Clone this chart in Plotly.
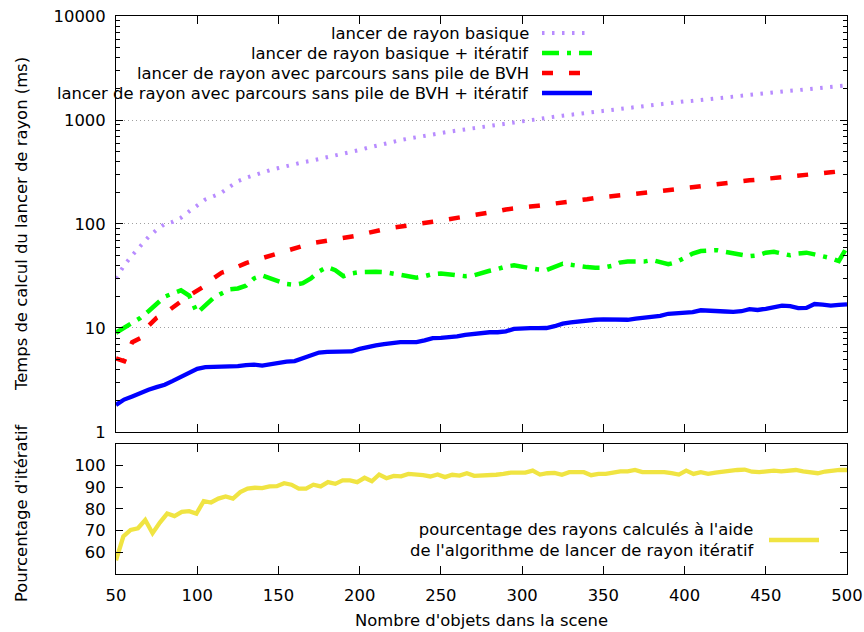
import plotly.graph_objects as go

# Nombre d'objets (pas de 5) pour les temps de calcul
n_objets = list(range(50, 505, 5))

# temps en ms
basique = [30, 40, 50, 62, 75, 88, 100, 105, 115, 132,
           150, 172, 185, 200, 228, 258, 278, 296, 312, 330,
           345, 362, 378, 392, 405, 420, 438, 455, 472, 492,
           515, 540, 565, 592, 618, 640, 662, 685, 708, 730,
           752, 772, 792, 810, 828, 850, 872, 895, 918, 945,
           970, 1000, 1025, 1050, 1075, 1100, 1125, 1150, 1175, 1195,
           1210, 1235, 1265, 1290, 1320, 1350, 1385, 1420, 1450, 1480,
           1510, 1530, 1560, 1590, 1620, 1650, 1690, 1730, 1765, 1790,
           1820, 1850, 1880, 1910, 1940, 1970, 2000, 2040, 2080, 2110,
           2150]

basique_iter = [9.0, 10.0, 11.3, 12.5, 14.5, 17.0, 20.0, 21.5, 23.0, 20.5,
                14.0, 16.5, 19.5, 21.5, 23.5, 24.0, 25.5, 30.0, 32.0, 30.0,
                28.0, 26.5, 26.0, 27.0, 30.0, 35.0, 38.5, 36.0, 31.5, 33.5,
                34.5, 34.8, 34.8, 34.5, 33.5, 32.8, 31.5, 30.5, 31.5, 33.0,
                33.5, 33.0, 32.5, 31.5, 32.0, 34.0, 35.5, 37.0, 39.0, 40.0,
                38.5, 37.5, 36.5, 36.0, 38.5, 41.5, 40.5, 39.0, 38.5, 38.0,
                38.0, 39.5, 42.5, 43.5, 43.0, 43.5, 45.0, 43.5, 41.0, 43.0,
                47.0, 52.0, 55.0, 55.5, 56.0, 54.0, 52.0, 50.5, 49.0, 50.0,
                53.0, 54.0, 52.0, 50.0, 52.0, 53.0, 51.0, 49.0, 47.0, 44.0,
                60.0]

bvh = [5.1, 4.8, 7.3, 8.0, 10.5, 12.5, 13.8, 16.0, 18.0, 20.5,
       23, 25.5, 30, 34, 36, 39, 42, 44.5, 47, 50,
       53, 56, 59, 62, 65, 67, 69, 71, 73, 75.5,
       78, 82, 86, 89, 92, 94, 97, 99, 102, 105,
       108, 111, 114, 117, 121, 125, 129, 133, 138, 142,
       145, 147, 150, 153, 156, 160, 165, 169, 173, 178,
       182, 185, 188, 192, 195, 199, 203, 207, 212, 217,
       222, 227, 232, 237, 242, 248, 253, 258, 263, 267,
       271, 276, 281, 287, 292, 297, 302, 308, 314, 320,
       326]

bvh_iter = [1.82, 2.05, 2.2, 2.4, 2.55, 2.7, 2.85, 3.1, 3.4, 3.7,
            4.05, 4.2, 4.22, 4.22, 4.25, 4.3, 4.4, 4.45, 4.35, 4.5,
            4.7, 4.75, 4.8, 5.1, 5.5, 5.8, 5.9, 5.9, 5.85, 5.95,
            6.3, 6.6, 6.8, 7.0, 7.2, 7.3, 7.3, 7.3, 7.6, 8.0,
            8.05, 8.1, 8.3, 8.6, 8.8, 9.0, 9.1, 9.1, 9.3, 9.8,
            9.95, 9.95, 9.95, 10.0, 10.4, 11.0, 11.3, 11.6, 11.9, 12.0,
            12.1, 12.0, 11.9, 12.0, 12.3, 12.5, 12.7, 13.1, 13.7, 13.8,
            13.8, 14.2, 14.8, 14.6, 14.3, 14.4, 14.3, 14.5, 15.2, 14.9,
            15.3, 15.9, 16.4, 16.2, 15.5, 15.6, 17.0, 16.8, 16.4, 16.7,
            16.9]

# pourcentage (pas de 4.5)
pct_iteratif = [56.3, 67.3, 70.3, 71.1, 74.9, 68.8, 73.7, 77.9, 76.7, 78.7,
                79.0, 77.9, 83.6, 83.0, 84.8, 85.8, 84.8, 87.8, 89.4, 89.8,
                89.6, 90.4, 90.5, 91.9, 91.2, 89.4, 89.4, 91.2, 90.4, 92.4,
                91.6, 93.2, 93.2, 92.4, 94.4, 92.8, 95.9, 94.2, 95.3, 95.1,
                96.2, 96.0, 95.6, 95.0, 95.9, 94.7, 95.8, 95.4, 96.5, 95.3,
                95.4, 95.8, 95.8, 96.2, 96.8, 96.8, 96.8, 97.7, 95.9, 96.5,
                96.7, 95.8, 97.0, 97.0, 97.0, 95.6, 96.2, 96.2, 97.0, 97.4,
                97.4, 98.0, 97.0, 97.0, 97.0, 97.0, 96.5, 95.9, 97.7, 96.2,
                97.0, 96.2, 96.8, 97.3, 97.6, 98.0, 98.2, 97.2, 97.0, 97.2,
                97.7, 97.4, 97.6, 98.0, 97.4, 97.0, 96.5, 97.3, 97.8, 98.0,
                98.0]
n_objets_pct = [50 + 4.5 * i for i in range(len(pct_iteratif))]

labels = ["lancer de rayon basique",
          "lancer de rayon basique + itératif",
          "lancer de rayon avec parcours sans pile de BVH",
          "lancer de rayon avec parcours sans pile de BVH + itératif"]
label_pct = "pourcentage des rayons calculés à l'aide<br>de l'algorithme de lancer de rayon itératif"

styles = [dict(color="#b88cff", width=4, dash="2.5px,7.5px"),
          dict(color="#00ff00", width=4.5, dash="17px,8px,4px,8px"),
          dict(color="#ff0000", width=4.5, dash="11px,16px"),
          dict(color="#0000ff", width=4.3, dash="solid")]
series = [basique, basique_iter, bvh, bvh_iter]

FONT = "DejaVu Sans"
FS = 16.4
fig = go.Figure()
for lab, ys, st in zip(labels, series, styles):
    fig.add_trace(go.Scatter(x=n_objets, y=ys, mode="lines", name=lab,
                             line=st, xaxis="x", yaxis="y", showlegend=False))
fig.add_trace(go.Scatter(x=n_objets_pct, y=pct_iteratif, mode="lines",
                         line=dict(color="#f0e442", width=4.3),
                         xaxis="x2", yaxis="y2", showlegend=False))

axis_common = dict(showline=True, linecolor="black", linewidth=1, mirror="allticks",
                   ticks="inside", tickcolor="black", zeroline=False, automargin=False,
                   tickfont=dict(size=FS, color="black"))
y_top0 = 0.2545
fig.update_layout(
    width=864, height=632,
    margin=dict(l=116, r=17, t=16, b=58, autoexpand=False),
    paper_bgcolor="white", plot_bgcolor="white",
    font=dict(family=FONT, size=FS, color="black"),
    xaxis=dict(axis_common, range=[50, 500], tickvals=list(range(50, 501, 50)),
               showticklabels=False, ticklen=8, showgrid=False,
               anchor="y", domain=[0, 1]),
    yaxis=dict(axis_common, type="log", range=[0, 4],
               tickvals=[1, 10, 100, 1000, 10000],
               ticktext=["1", "10", "100", "1000", "10000"],
               ticklen=7, ticklabelstandoff=6,
               minor=dict(ticks="inside", ticklen=4, tickcolor="black", dtick="D1", showgrid=False),
               showgrid=True, gridcolor="#a0a0a0", griddash="1px,3px", gridwidth=1,
               anchor="x", domain=[y_top0, 1]),
    xaxis2=dict(axis_common, range=[50, 500], tickvals=list(range(50, 501, 50)),
                ticklen=8, showgrid=False, ticklabelstandoff=6,
                anchor="y2", domain=[0, 1]),
    yaxis2=dict(axis_common, range=[50, 110], tickvals=[60, 70, 80, 90, 100],
                ticklen=7, showgrid=False, ticklabelstandoff=6,
                anchor="x2", domain=[0, 0.233]),
)

# titres des axes
fig.add_annotation(text="Temps de calcul du lancer de rayon (ms)", textangle=-90,
                   xref="paper", yref="paper", x=0, y=(y_top0 + 1) / 2,
                   xanchor="center", yanchor="middle",
                   xshift=-94, showarrow=False, font=dict(size=FS))
fig.add_annotation(text="Pourcentage d'itératif", textangle=-90,
                   xref="paper", yref="paper", x=0, y=0.233 / 2,
                   xanchor="center", yanchor="middle",
                   xshift=-94, yshift=-4, showarrow=False, font=dict(size=FS))
fig.add_annotation(text="Nombre d'objets dans la scene", xref="paper", yref="paper",
                   x=0.5, y=0, yshift=-46, yanchor="middle", showarrow=False,
                   font=dict(size=FS))

# légende façon gnuplot : texte aligné à droite, échantillon à droite
plot_h = 632 - 16 - 58
for i, (lab, st) in enumerate(zip(labels, styles)):
    py = 33 + 20 * i
    yp = (574 - py) / plot_h
    fig.add_annotation(text=lab, xref="paper", yref="paper", x=(531 - 116) / 731, y=yp,
                       xanchor="right", yanchor="middle", showarrow=False, font=dict(size=FS))
    fig.add_shape(type="line", xref="paper", yref="paper",
                  x0=(542 - 116) / 731, x1=(592 - 116) / 731, y0=yp, y1=yp, line=st)

yp = (574 - 540) / plot_h
fig.add_annotation(text=label_pct, xref="paper", yref="paper", x=(757 - 116) / 731, y=yp,
                   xanchor="right", yanchor="middle", align="right", showarrow=False,
                   font=dict(size=FS))
fig.add_shape(type="line", xref="paper", yref="paper",
              x0=(769 - 116) / 731, x1=(819 - 116) / 731, y0=yp, y1=yp,
              line=dict(color="#f0e442", width=4.3))

# la page HTML a une marge de 8px par défaut : on la supprime
fig.write_html("out.html", config={"displayModeBar": False},
               post_script="document.body.style.margin='0';")
